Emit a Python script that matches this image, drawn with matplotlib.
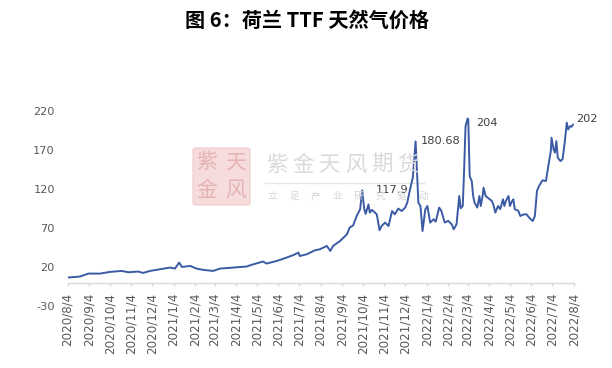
import matplotlib
matplotlib.use("Agg")
import matplotlib.pyplot as plt
from matplotlib.patches import FancyBboxPatch
import pandas as pd

plt.rcParams['font.family'] = ['DejaVu Sans', 'Noto Sans CJK SC']

dates = [
    "2020-08-04", "2020-08-22", "2020-09-03", "2020-09-20", "2020-10-04", "2020-10-21",
    "2020-10-31", "2020-11-14", "2020-11-21", "2020-12-01", "2020-12-15", "2020-12-30",
    "2021-01-06", "2021-01-12", "2021-01-16", "2021-01-28", "2021-02-06", "2021-02-16",
    "2021-03-02", "2021-03-12", "2021-03-31", "2021-04-19", "2021-04-29", "2021-05-13",
    "2021-05-18", "2021-06-02", "2021-06-16", "2021-06-26", "2021-07-03", "2021-07-05",
    "2021-07-15", "2021-07-27", "2021-08-03", "2021-08-13", "2021-08-18", "2021-08-22",
    "2021-09-01", "2021-09-11", "2021-09-15", "2021-09-20", "2021-09-25", "2021-09-30",
    "2021-10-03", "2021-10-06", "2021-10-08", "2021-10-12", "2021-10-14", "2021-10-17",
    "2021-10-24", "2021-10-28", "2021-10-31", "2021-11-05", "2021-11-10", "2021-11-15",
    "2021-11-19", "2021-11-24", "2021-11-29", "2021-12-04", "2021-12-07", "2021-12-11",
    "2021-12-15", "2021-12-19", "2021-12-21", "2021-12-23", "2021-12-26", "2021-12-29",
    "2022-01-02", "2022-01-05", "2022-01-09", "2022-01-14", "2022-01-17", "2022-01-22",
    "2022-01-25", "2022-01-30", "2022-02-04", "2022-02-09", "2022-02-12", "2022-02-16",
    "2022-02-20", "2022-02-22", "2022-02-25", "2022-02-27", "2022-03-01", "2022-03-04",
    "2022-03-05", "2022-03-07", "2022-03-10", "2022-03-12", "2022-03-14", "2022-03-18",
    "2022-03-21", "2022-03-23", "2022-03-26", "2022-03-27", "2022-03-30", "2022-04-02",
    "2022-04-08", "2022-04-10", "2022-04-13", "2022-04-15", "2022-04-17", "2022-04-20",
    "2022-04-24", "2022-04-26", "2022-04-28", "2022-05-02", "2022-05-04", "2022-05-07",
    "2022-05-09", "2022-05-11", "2022-05-16", "2022-05-19", "2022-05-23", "2022-05-28",
    "2022-05-31", "2022-06-03", "2022-06-06", "2022-06-09", "2022-06-12", "2022-06-15",
    "2022-06-20", "2022-06-25", "2022-06-28", "2022-07-02", "2022-07-03", "2022-07-06",
    "2022-07-08", "2022-07-10", "2022-07-12", "2022-07-16", "2022-07-19", "2022-07-22",
    "2022-07-25", "2022-07-27", "2022-07-30", "2022-08-01", "2022-08-03",
]
prices = [
    6.4, 7.7, 11.5, 11.5, 13.6, 14.9,
    13.2, 14.1, 12.3, 14.9, 17.0, 19.2,
    17.9, 25.6, 20.0, 21.3, 17.9, 16.2,
    14.9, 17.9, 19.2, 20.5, 23.4, 26.9,
    24.3, 27.7, 32.0, 35.3, 38.4, 34.0,
    36.2, 41.4, 42.6, 46.9, 40.5, 46.9,
    53.2, 61.8, 70.4, 73.3, 85.2, 93.8,
    117.9, 93.8, 88.0, 100.0, 89.6, 93.0,
    87.4, 67.0, 72.4, 76.8, 72.4, 91.6,
    87.4, 94.7, 91.6, 96.0, 102.3, 119.4,
    134.3, 180.68, 140.0, 102.3, 98.0, 66.0,
    93.8, 98.0, 76.8, 81.0, 78.0, 96.0,
    92.0, 76.8, 79.0, 74.6, 68.2, 74.6,
    110.8, 95.0, 98.0, 145.0, 200.0, 210.0,
    208.0, 136.0, 130.0, 110.8, 102.3, 96.0,
    110.8, 98.0, 113.0, 121.5, 110.8, 108.7,
    104.4, 100.0, 89.6, 94.0, 98.0, 94.0,
    106.6, 98.0, 104.0, 110.8, 98.0, 104.0,
    106.6, 93.8, 92.0, 85.2, 87.0, 87.4,
    84.0, 81.0, 78.8, 85.2, 117.2, 123.6,
    130.9, 130.0, 147.0, 168.4, 185.5, 170.5,
    166.3, 181.0, 160.0, 155.5, 158.0, 179.0,
    204.6, 196.0, 200.3, 199.5, 202.0,
]

tick_dates = [
    "2020-08-04", "2020-09-04", "2020-10-04", "2020-11-04", "2020-12-04",
    "2021-01-04", "2021-02-04", "2021-03-04", "2021-04-04", "2021-05-04",
    "2021-06-04", "2021-07-04", "2021-08-04", "2021-09-04", "2021-10-04",
    "2021-11-04", "2021-12-04", "2022-01-04", "2022-02-04", "2022-03-04",
    "2022-04-04", "2022-05-04", "2022-06-04", "2022-07-04", "2022-08-04",
]
tick_labels = [
    "2020/8/4", "2020/9/4", "2020/10/4", "2020/11/4", "2020/12/4",
    "2021/1/4", "2021/2/4", "2021/3/4", "2021/4/4", "2021/5/4",
    "2021/6/4", "2021/7/4", "2021/8/4", "2021/9/4", "2021/10/4",
    "2021/11/4", "2021/12/4", "2022/1/4", "2022/2/4", "2022/3/4",
    "2022/4/4", "2022/5/4", "2022/6/4", "2022/7/4", "2022/8/4",
]
y_ticks = [-30, 20, 70, 120, 170, 220]

ann_dates = ["2021-10-03", "2021-12-19", "2022-03-04", "2022-08-03"]
ann_values = [117.9, 180.68, 204, 202]
ann_texts = ["117.9", "180.68", "204", "202"]
ann_offsets = [(14, 0), (5, 0), (9, 0), (3, 6)]

fig = plt.figure(figsize=(6.12, 3.68), dpi=100)
fig.patch.set_facecolor("white")

# ---- watermark ----
seal = FancyBboxPatch((193 / 612, 1 - 205 / 368), 57 / 612, 57 / 368,
                      boxstyle="round,pad=0,rounding_size=0.006",
                      transform=fig.transFigure, facecolor="#f6dcdc",
                      edgecolor="#efcaca", lw=0.8, zorder=0)
fig.patches.append(seal)
for ch, (cx, cy) in zip("紫天金风", [(207, 162), (236, 162), (207, 190), (236, 190)]):
    fig.text(cx / 612, 1 - cy / 368, ch, ha="center", va="center", fontsize=15,
             color="#e6b3b3", family=["Noto Sans CJK SC"], zorder=0)
for i, ch in enumerate("紫金天风期货"):
    fig.text((266 + i * 26.3) / 612, 1 - 165 / 368, ch, ha="left", va="center",
             fontsize=15.5, color="#dadada", family=["Noto Sans CJK SC"], zorder=0)
fig.add_artist(plt.Line2D([265 / 612, 424 / 612], [1 - 183 / 368, 1 - 183 / 368],
                          color="#e6e6e6", lw=1.0, zorder=0))
for i, ch in enumerate("立足产业研究驱动"):
    fig.text((268 + i * 21.5) / 612, 1 - 196 / 368, ch, ha="left", va="center",
             fontsize=7, color="#d4d4d4", family=["Noto Sans CJK SC"], zorder=0)

# ---- axes ----
ax = fig.add_axes([67.5 / 612, 1 - 306 / 368, (573.7 - 67.5) / 612, (306 - 110.7) / 368])
ax.patch.set_alpha(0)

x = pd.to_datetime(dates)
ax.plot(x, prices, color="#3b5ba5", lw=1.4, solid_joinstyle="round", zorder=3)

ax.set_xlim(pd.Timestamp("2020-08-04"), pd.Timestamp("2022-08-04"))
ax.set_ylim(-30, 220)
ax.set_yticks(y_ticks)
ax.set_yticklabels([str(v) for v in y_ticks])
ax.set_xticks(pd.to_datetime(tick_dates))
ax.set_xticklabels(tick_labels)

for s in ["left", "top", "right"]:
    ax.spines[s].set_visible(False)
ax.spines["bottom"].set_position(("data", 0))
ax.spines["bottom"].set_color("#d9d9d9")
ax.spines["bottom"].set_linewidth(1.0)

ax.tick_params(axis="y", length=0, pad=9, labelsize=8.2, labelcolor="#595959")
ax.tick_params(axis="x", length=2.5, width=1.0, color="#d9d9d9", direction="out",
               pad=5, labelsize=8.6, labelcolor="#595959", labelrotation=90)
for lab in ax.get_xticklabels():
    lab.set_rotation(90)
    lab.set_va("top")
    lab.set_ha("center")

for d, v, t, off in zip(ann_dates, ann_values, ann_texts, ann_offsets):
    ax.annotate(t, xy=(pd.Timestamp(d), v), xytext=off, textcoords="offset pixels",
                ha="left", va="center", fontsize=8.2, color="#404040", zorder=4)

fig.text(307 / 612, 1 - 20 / 368, "图 6：荷兰 TTF 天然气价格", ha="center", va="center",
         fontsize=14.5, fontweight="bold", color="black",
         family=["Noto Sans CJK SC", "DejaVu Sans"])

fig.savefig("out.png", dpi=100, facecolor="white")
